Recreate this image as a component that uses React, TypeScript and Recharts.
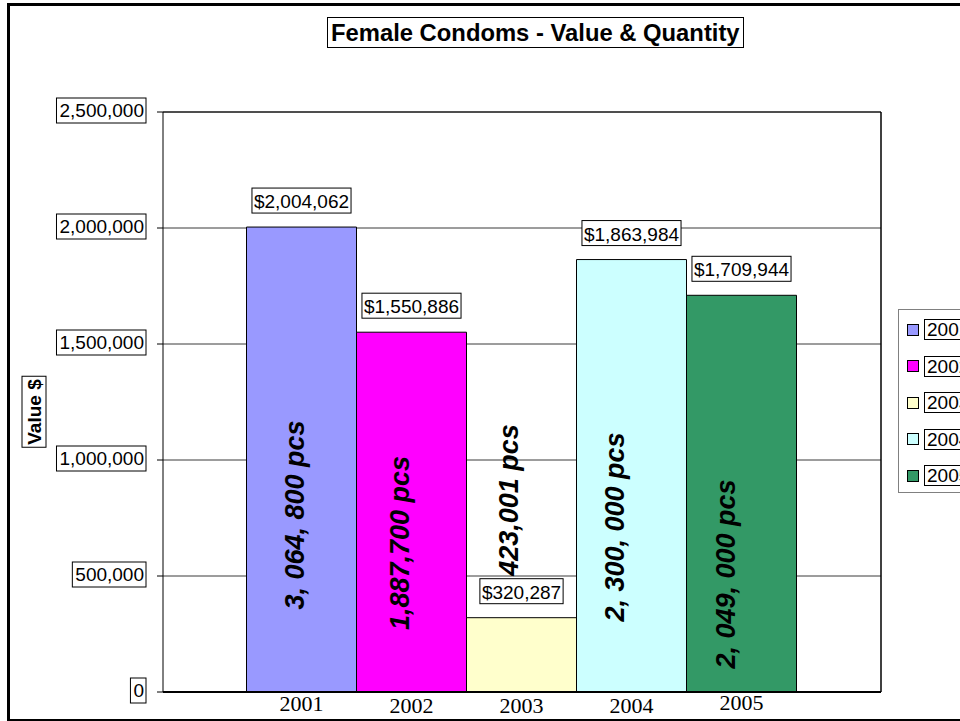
import React from "react";
import {
  BarChart,
  Bar,
  XAxis,
  YAxis,
  CartesianGrid,
  ReferenceLine,
  LabelList,
  Legend,
} from "recharts";

document.body.style.margin = "0";

const years = ["2001", "2002", "2003", "2004", "2005"];
const values = [2004062, 1550886, 320287, 1863984, 1709944];
const quantities = [
  "3, 064, 800 pcs",
  "1,887,700 pcs",
  "423,001 pcs",
  "2, 300, 000 pcs",
  "2, 049, 000 pcs",
];
const yTicks = [0, 500000, 1000000, 1500000, 2000000, 2500000];

const colors = ["#9999ff", "#ff00ff", "#ffffcc", "#ccffff", "#339966"];
// hand placed label nudges, like the original sheet
const qtyLift = [177, 149, 192, 165, 118];
const qtyShift = [2, -3, -3.5, -7.5, -7];
const yearDrop = [19, 21, 21, 21, 18];

const row: Record<string, string | number> = { name: "Value" };
years.forEach((y, i) => {
  row["y" + y] = values[i];
});
const data = [row];

const SANS = "'Liberation Sans', Arial, sans-serif";
const SERIF = "'Liberation Serif', 'Times New Roman', serif";

function textW(s: string, size: number) {
  let w = 0;
  for (const ch of s) {
    if (ch === "," || ch === " " || ch === ".") w += 0.278;
    else w += 0.556;
  }
  return w * size;
}

const fmt = (v: number) => v.toLocaleString("en-US");

function TickBox(props: any) {
  const { x, y, payload } = props;
  const t = fmt(payload.value);
  const end = x - 11;
  const w = textW(t, 19);
  return (
    <g>
      <rect
        x={end - w - 3}
        y={y - 14}
        width={w + 5}
        height={25}
        fill="#fff"
        stroke="#000"
        strokeWidth={1}
      />
      <text x={end} y={y + 5} textAnchor="end" fontSize={19} fontFamily={SANS} fill="#000">
        {t}
      </text>
    </g>
  );
}

function valueTag(props: any) {
  const { x, y, width, value } = props;
  const cx = x + width / 2;
  const base = y - 19;
  const t = "$" + fmt(value);
  const w = textW(t, 19);
  return (
    <g>
      <rect
        x={cx - w / 2 - 2}
        y={base - 20}
        width={w + 4}
        height={25}
        fill="#fff"
        stroke="#000"
        strokeWidth={1}
      />
      <text x={cx} y={base} textAnchor="middle" fontSize={19} fontFamily={SANS} fill="#000">
        {t}
      </text>
    </g>
  );
}

function qtyTag(i: number) {
  return (props: any) => {
    const { x, y, width, height } = props;
    const bx = x + width / 2 + qtyShift[i];
    const cy = y + height - qtyLift[i];
    return (
      <text
        x={bx}
        y={cy}
        transform={`rotate(-90 ${bx} ${cy})`}
        textAnchor="middle"
        fontSize={27}
        fontStyle="italic"
        fontWeight="bold"
        fontFamily={SANS}
        fill="#000"
      >
        {quantities[i]}
      </text>
    );
  };
}

function yearTag(i: number) {
  return (props: any) => {
    const { x, y, width, height } = props;
    return (
      <text
        x={x + width / 2}
        y={y + height + yearDrop[i]}
        textAnchor="middle"
        fontSize={22}
        fontFamily={SERIF}
        fill="#000"
      >
        {years[i]}
      </text>
    );
  };
}

function LegendBox(props: any) {
  const items = props.payload || [];
  return (
    <div
      style={{
        position: "relative",
        width: 100,
        height: 182,
        border: "1px solid #808080",
        background: "#fff",
        fontFamily: SANS,
      }}
    >
      {items.map((it: any, i: number) => (
        <div key={it.value} style={{ position: "absolute", top: 9 + i * 36.6, left: 8, display: "flex", alignItems: "center" }}>
          <span
            style={{
              display: "inline-block",
              width: 10,
              height: 10,
              background: it.color,
              border: "1px solid #000",
            }}
          />
          <span
            style={{
              marginLeft: 5,
              border: "1px solid #000",
              padding: "0 2px",
              fontSize: 19,
              lineHeight: "19px",
              color: "#000",
            }}
          >
            {it.value}
          </span>
        </div>
      ))}
    </div>
  );
}

export default function App() {
  return (
    <div style={{ position: "relative", width: 960, height: 721, overflow: "hidden", background: "#fff" }}>
      <div
        style={{
          position: "absolute",
          left: 7,
          top: 3,
          width: 980,
          height: 713,
          border: "2px solid #000",
          borderTopWidth: 3,
          borderLeftWidth: 3,
        }}
      />
      <BarChart
        width={960}
        height={721}
        data={data}
        margin={{ top: 112, right: 69, bottom: 0, left: 103 }}
        barCategoryGap={83.5}
        barGap={0}
      >
        <CartesianGrid vertical={false} stroke="#3a3a3a" />
        <XAxis dataKey="name" tick={false} tickLine={false} height={29} axisLine={{ stroke: "#000", strokeWidth: 2 }} />
        <YAxis
          width={60}
          domain={[0, 2500000]}
          ticks={yTicks}
          interval={0}
          tickSize={6}
          tickLine={{ stroke: "#000" }}
          axisLine={{ stroke: "#000" }}
          tick={<TickBox />}
        />
        <YAxis
          yAxisId="frame"
          orientation="right"
          width={10}
          domain={[0, 2500000]}
          tick={false}
          tickLine={false}
          axisLine={{ stroke: "#000", strokeWidth: 1.5 }}
        />
        <ReferenceLine y={2500000} stroke="#000" />
        {years.map((y, i) => (
          <Bar
            key={y}
            dataKey={"y" + y}
            name={y}
            fill={colors[i]}
            stroke="#000"
            strokeWidth={1}
            isAnimationActive={false}
          >
            <LabelList dataKey={"y" + y} content={valueTag} />
            <LabelList dataKey={"y" + y} content={qtyTag(i)} />
            <LabelList dataKey={"y" + y} content={yearTag(i)} />
          </Bar>
        ))}
        <Legend
          layout="vertical"
          align="center"
          verticalAlign="middle"
          content={<LegendBox />}
          wrapperStyle={{ left: 898, top: 309, width: 100, height: 184 }}
        />
      </BarChart>
      <div
        style={{
          position: "absolute",
          left: 327,
          top: 17,
          border: "1px solid #000",
          padding: "0 3px",
          fontFamily: SANS,
          fontWeight: "bold",
          fontSize: 23.8,
          lineHeight: "29px",
          whiteSpace: "nowrap",
          color: "#000",
        }}
      >
        Female Condoms - Value &amp; Quantity
      </div>
      <div
        style={{
          position: "absolute",
          left: 33.5,
          top: 412,
          transform: "translate(-50%, -50%) rotate(-90deg)",
          border: "1px solid #000",
          padding: "0 2px",
          fontFamily: SANS,
          fontWeight: "bold",
          fontSize: 19,
          lineHeight: "23px",
          whiteSpace: "nowrap",
          color: "#000",
        }}
      >
        Value $
      </div>
    </div>
  );
}
